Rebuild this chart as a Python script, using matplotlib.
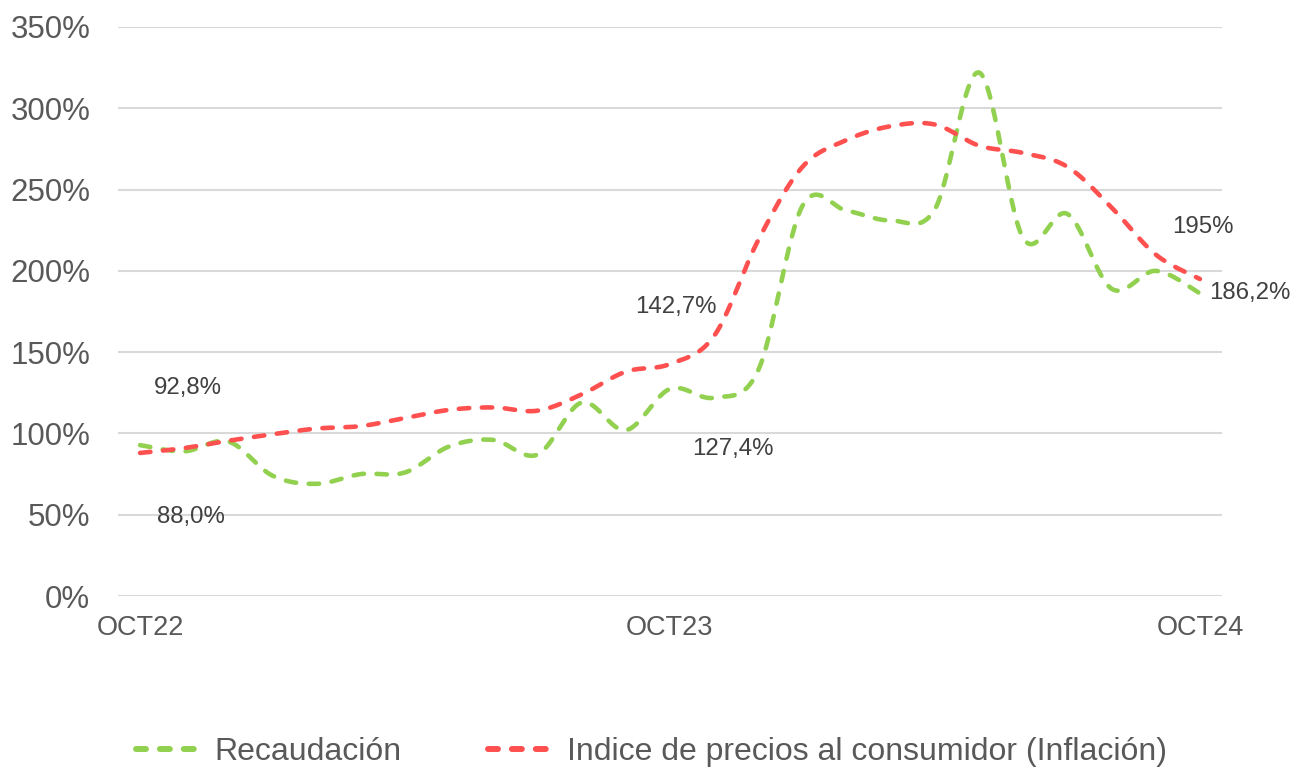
import numpy as np
import matplotlib
matplotlib.use("Agg")
import matplotlib.pyplot as plt

plt.rcParams['font.family'] = ['Liberation Sans', 'DejaVu Sans']

# datos mensuales OCT22 .. OCT24 (variacion interanual, %)
meses = ['OCT22', 'NOV22', 'DIC22', 'ENE23', 'FEB23', 'MAR23', 'ABR23', 'MAY23',
         'JUN23', 'JUL23', 'AGO23', 'SEP23', 'OCT23', 'NOV23', 'DIC23', 'ENE24',
         'FEB24', 'MAR24', 'ABR24', 'MAY24', 'JUN24', 'JUL24', 'AGO24', 'SEP24',
         'OCT24']
recaudacion = [92.8, 89, 95, 74, 69, 75, 76, 92, 96, 87, 119, 102, 127.4, 122,
               139, 240, 237, 231, 238, 322, 220, 235, 189, 200, 186.2]
ipc = [88.0, 91, 95.5, 99.5, 103, 104.5, 109.5, 114.5, 116, 114, 124, 138,
       142.7, 160, 219, 264, 280.5, 289, 290, 277, 272.5, 264, 239, 210, 195]
etiquetas_x = ['OCT22', 'OCT23', 'OCT24']
etiquetas_rec = {0: '92,8%', 12: '127,4%', 24: '186,2%'}
etiquetas_ipc = {0: '88,0%', 12: '142,7%', 24: '195%'}

VERDE = '#92D050'
ROJO = '#FF5050'
GRIS = '#595959'


def suavizar(y, n=30):
    """linea suavizada tipo Excel (bezier con tangentes catmull-rom)"""
    y = np.asarray(y, dtype=float)
    x = np.arange(len(y), dtype=float)
    px = np.concatenate(([x[0]], x, [x[-1]]))
    py = np.concatenate(([y[0]], y, [y[-1]]))
    xs, ys = [], []
    t = np.linspace(0, 1, n)
    for i in range(1, len(px) - 2):
        p0 = np.array([px[i], py[i]])
        p3 = np.array([px[i + 1], py[i + 1]])
        c1 = p0 + (p3 - np.array([px[i - 1], py[i - 1]])) / 6
        c2 = p3 - (np.array([px[i + 2], py[i + 2]]) - p0) / 6
        b = ((1 - t) ** 3)[:, None] * p0 + (3 * (1 - t) ** 2 * t)[:, None] * c1 \
            + (3 * (1 - t) * t ** 2)[:, None] * c2 + (t ** 3)[:, None] * p3
        xs.append(b[:, 0])
        ys.append(b[:, 1])
    return np.concatenate(xs), np.concatenate(ys)


fig = plt.figure(figsize=(13.03, 7.69), dpi=100)
ax = fig.add_axes([118 / 1303, 173 / 769, 1104 / 1303, 569 / 769])

estilo = dict(lw=3.3, linestyle=(0, (2.27, 2.75)), dash_capstyle='round')
xr, yr = suavizar(recaudacion)
ax.plot(xr, yr, color=VERDE, label='Recaudación', **estilo)
xi, yi = suavizar(ipc)
ax.plot(xi, yi, color=ROJO, label='Indice de precios al consumidor (Inflación)', **estilo)

ax.set_xlim(-0.5, len(meses) - 0.5)
ax.set_ylim(0, 350)
ax.set_yticks(np.arange(0, 351, 50))
ax.set_yticklabels([f'{v}%' for v in range(0, 351, 50)])
ax.set_xticks([meses.index(m) for m in etiquetas_x])
ax.set_xticklabels(etiquetas_x)
ax.yaxis.grid(True, color='#D9D9D9', lw=1.5)
ax.set_axisbelow(True)
for s in ax.spines.values():
    s.set_visible(False)
ax.tick_params(axis='both', length=0, colors=GRIS, labelsize=19.5)
ax.tick_params(axis='y', pad=20, labelsize=22.5)
ax.tick_params(axis='x', pad=14)

# etiquetas de datos
desp_rec = {0: (48, 57), 12: (63, -60), 24: (50, 0)}
desp_ipc = {0: (51, -64), 12: (6, 57), 24: (3, 52)}
for i, txt in etiquetas_rec.items():
    ax.annotate(txt, (i, recaudacion[i]), xytext=desp_rec[i], textcoords='offset pixels',
                ha='center', va='center', fontsize=17.3, color='#404040',
                annotation_clip=False)
for i, txt in etiquetas_ipc.items():
    ax.annotate(txt, (i, ipc[i]), xytext=desp_ipc[i], textcoords='offset pixels',
                ha='center', va='center', fontsize=17.3, color='#404040',
                annotation_clip=False)

leg = fig.legend(loc='center', bbox_to_anchor=(0.5, 1 - 752 / 769), ncol=2, frameon=False,
                 fontsize=23, labelcolor=GRIS, handlelength=2.0, handletextpad=0.47,
                 columnspacing=2.7)
for ln in leg.get_lines():
    ln.set_linewidth(4.3)
    ln.set_linestyle((0, (1.67, 2.33)))

fig.savefig('out.png', dpi=100)
